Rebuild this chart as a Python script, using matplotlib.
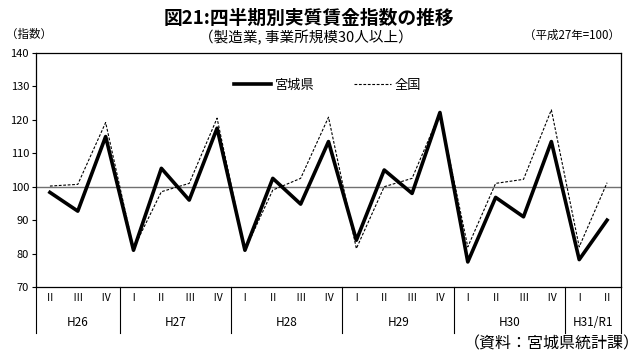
import matplotlib
matplotlib.use("Agg")
import matplotlib.pyplot as plt
import matplotlib.transforms as mtransforms

plt.rcParams['font.family'] = ['Noto Sans CJK JP', 'DejaVu Sans']

quarters = ["Ⅱ", "Ⅲ", "Ⅳ",
            "Ⅰ", "Ⅱ", "Ⅲ", "Ⅳ",
            "Ⅰ", "Ⅱ", "Ⅲ", "Ⅳ",
            "Ⅰ", "Ⅱ", "Ⅲ", "Ⅳ",
            "Ⅰ", "Ⅱ", "Ⅲ", "Ⅳ",
            "Ⅰ", "Ⅱ"]
years = ["H26", "H27", "H28", "H29", "H30", "H31/R1"]
year_counts = [3, 4, 4, 4, 4, 2]

miyagi = [98.3, 92.7, 115.0,
          81.0, 105.5, 96.0, 117.5,
          81.0, 102.5, 94.8, 113.5,
          84.0, 105.0, 98.0, 122.2,
          77.5, 96.8, 91.0, 113.5,
          78.2, 90.0]
national = [100.2, 100.7, 119.2,
            81.5, 98.5, 101.0, 120.5,
            81.0, 99.0, 102.5, 120.8,
            81.5, 100.0, 102.5, 122.0,
            82.0, 101.0, 102.2, 123.0,
            82.0, 101.2]

W, H = 640, 356
fig = plt.figure(figsize=(W / 100, H / 100), dpi=100)
L, R, T, B = 36, 621, 53, 287
ax = fig.add_axes([L / W, 1 - B / H, (R - L) / W, (B - T) / H])

x = list(range(len(quarters)))
ax.axhline(100, color="#707070", lw=1.0, zorder=1)
ax.plot(x, national, color="black", lw=0.8, ls=(0, (2.5, 1.5)), label="全国", zorder=2)
ax.plot(x, miyagi, color="black", lw=2.6, label="宮城県", zorder=3)

ax.set_xlim(-0.5, len(quarters) - 0.5)
ax.set_ylim(70, 140)
ax.set_yticks(range(70, 141, 10))
ax.tick_params(axis='y', direction='out', length=3, width=0.8, labelsize=8, pad=2)
ax.set_xticks([])
for s in ax.spines.values():
    s.set_linewidth(0.9)
    s.set_color("black")

trans = mtransforms.blended_transform_factory(ax.transData, ax.transAxes)
ah = B - T
for i, q in enumerate(quarters):
    ax.text(i, -11 / ah, q, transform=trans, ha='center', va='center', fontsize=7.5)

pos = -0.5
ax.plot([pos, pos], [0, -46 / ah], transform=trans, color='black', lw=0.8, clip_on=False)
for yname, cnt in zip(years, year_counts):
    center = pos + cnt / 2
    ax.text(center, -35 / ah, yname, transform=trans, ha='center', va='center', fontsize=8.5)
    pos += cnt
    ax.plot([pos, pos], [0, -46 / ah], transform=trans, color='black', lw=0.8, clip_on=False)

handles, labels = ax.get_legend_handles_labels()
leg = ax.legend(handles[::-1], labels[::-1], ncol=2, frameon=False, loc='center',
                bbox_to_anchor=(0.498, 0.863), fontsize=9.5, handlelength=2.85,
                columnspacing=3.0, handletextpad=0.25)

fig.text(309 / W, 1 - 18 / H, "図21:四半期別実質賃金指数の推移", ha='center', va='center',
         fontsize=13.5, fontweight='bold')
fig.text(306 / W, 1 - 38 / H, "（製造業, 事業所規模30人以上）", ha='center', va='center', fontsize=10.5)
fig.text(6 / W, 1 - 34 / H, "（指数）", ha='left', va='center', fontsize=8.3)
fig.text(620 / W, 1 - 35 / H, "（平成27年=100）", ha='right', va='center', fontsize=8.3)
fig.text(640 / W, 1 - 344 / H, "（資料：宮城県統計課）", ha='right', va='center', fontsize=11.5)

fig.savefig("out.png", dpi=100)
